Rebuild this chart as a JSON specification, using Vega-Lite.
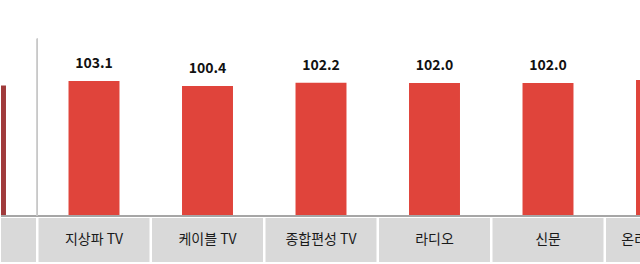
{
  "$schema": "https://vega.github.io/schema/vega-lite/v6.json",
  "padding": {"left": 0, "top": 0, "right": 0, "bottom": 3},
  "spacing": 1,
  "config": {"view": {"stroke": null}, "font": "Noto Sans CJK KR"},
  "data": {"values": [
    {"media": "전체", "value": 100.7, "group": "전체"},
    {"media": "지상파 TV", "value": 103.1, "group": "매체"},
    {"media": "케이블 TV", "value": 100.4, "group": "매체"},
    {"media": "종합편성 TV", "value": 102.2, "group": "매체"},
    {"media": "라디오", "value": 102.0, "group": "매체"},
    {"media": "신문", "value": 102.0, "group": "매체"},
    {"media": "온라인 동영상", "value": 103.7, "group": "매체"}
  ]},
  "vconcat": [
    {
      "width": 640,
      "height": 216,
      "layer": [
        {
          "mark": {"type": "bar", "clip": true},
          "encoding": {
            "x": {"field": "media", "type": "nominal", "sort": null, "scale": {"range": [-77.25, 717.25], "paddingInner": 0.551, "paddingOuter": 0.2755}, "axis": null},
            "y": {"field": "value", "type": "quantitative", "scale": {"domain": [30, 147], "zero": false, "nice": false}, "axis": null},
            "y2": {"datum": 30},
            "color": {"field": "group", "type": "nominal", "scale": {"domain": ["전체", "매체"], "range": ["#A03A3B", "#E0443B"]}, "legend": null}
          }
        },
        {
          "mark": {"type": "text", "clip": true, "fontSize": 14, "fontWeight": "bold", "baseline": "alphabetic", "dy": -13, "color": "#111111"},
          "encoding": {
            "x": {"field": "media", "type": "nominal", "sort": null, "scale": {"range": [-77.25, 717.25], "paddingInner": 0.551, "paddingOuter": 0.2755}, "axis": null},
            "y": {"field": "value", "type": "quantitative", "axis": null},
            "text": {"field": "value", "type": "quantitative", "format": ".1f"}
          }
        },
        {
          "mark": {"type": "rule", "color": "#A6A6A6", "strokeWidth": 1.5},
          "encoding": {"y": {"datum": 30, "type": "quantitative"}}
        },
        {
          "mark": {"type": "rule", "color": "#C8C8C8", "strokeWidth": 1},
          "encoding": {
            "x": {"datum": "지상파 TV", "type": "nominal", "bandPosition": 0, "scale": {"domain": ["전체", "지상파 TV", "케이블 TV", "종합편성 TV", "라디오", "신문", "온라인 동영상"], "range": [-77.25, 717.25], "paddingInner": 0, "paddingOuter": 0}, "axis": null},
            "y": {"datum": 126, "type": "quantitative"},
            "y2": {"datum": 30}
          }
        }
      ],
      "resolve": {"scale": {"x": "independent"}}
    },
    {
      "width": 640,
      "height": 44,
      "layer": [
        {
          "mark": {"type": "bar", "color": "#D9D9D9", "clip": true},
          "encoding": {
            "x": {"field": "media", "type": "nominal", "sort": null, "scale": {"range": [-77.25, 717.25], "paddingInner": 0.022, "paddingOuter": 0.011}, "axis": null}
          }
        },
        {
          "mark": {"type": "text", "clip": true, "fontSize": 14, "color": "#1A1A1A"},
          "encoding": {
            "x": {"field": "media", "type": "nominal", "sort": null, "axis": null},
            "text": {"field": "media", "type": "nominal"}
          }
        }
      ]
    }
  ]
}
